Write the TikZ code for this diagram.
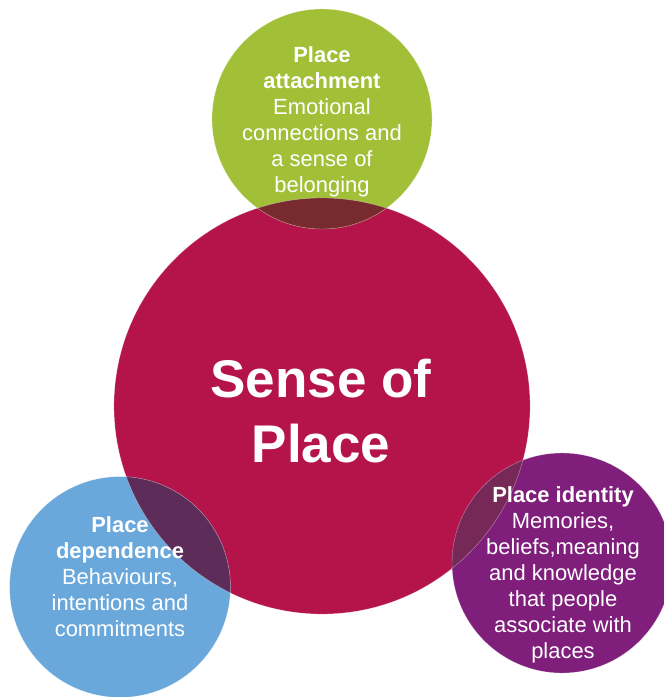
\documentclass[tikz,border=0pt]{standalone}
\usepackage{fontspec}
\setmainfont{Liberation Sans}
\usetikzlibrary{positioning}
\definecolor{sop-red}{HTML}{B5144B}
\definecolor{sop-green}{HTML}{A2BF38}
\definecolor{sop-blue}{HTML}{6AA8DC}
\definecolor{sop-purple}{HTML}{7F1F7B}
\definecolor{sop-green-dark}{HTML}{782B2F}
\definecolor{sop-blue-dark}{HTML}{5E2C58}
\definecolor{sop-purple-dark}{HTML}{762956}
\tikzset{sop-node/.style={circle, inner sep=0, outer sep=0}}
\tikzset{sop-edge/.style={draw=white, draw opacity=0.45, line width=0.3pt}}
\tikzset{sop-text/.style={text=white, align=center, font=\fontsize{15.6}{18.5}\selectfont}}

\begin{document}
\begin{tikzpicture}[x=0.025cm, y=-0.025cm]
            \useasboundingbox (0,0) rectangle (664,697);
            \node [sop-node, fill=sop-red, minimum size=10.4cm] (sense) at (322,406) {};
            \node [sop-node, fill=sop-green, minimum size=5.5cm] (attachment) at (322,119) {};
            \node [sop-node, fill=sop-blue, minimum size=5.52cm] (dependence) at (120,587) {};
            \node [sop-node, fill=sop-purple, minimum size=5.5cm] (identity) at (562,563) {};
            \begin{scope}
                \clip (sense.center) circle [radius=5.2cm];
                \fill [sop-green-dark] (attachment.center) circle [radius=2.75cm];
                \fill [sop-blue-dark] (dependence.center) circle [radius=2.76cm];
                \fill [sop-purple-dark] (identity.center) circle [radius=2.75cm];
            \end{scope}
            \foreach \name/\r in {sense/5.2, attachment/2.75, dependence/2.76, identity/2.75}
                \draw [sop-edge] (\name.center) circle [radius=\r cm];

            \node [sop-text, font=\fontsize{37.7}{46.2}\selectfont\bfseries] (sense-text) at (321,411) {Sense of\\Place};
            \node [sop-text] (attachment-text) at (322,122) {\textbf{Place}\\\textbf{attachment}\\Emotional\\connections and\\a sense of\\belonging};
            \node [sop-text] (dependence-text) at (120,577) {\textbf{Place}\\\textbf{dependence}\\Behaviours,\\intentions and\\commitments};
            \node [sop-text] (identity-text) at (563,575) {\textbf{Place identity}\\Memories,\\beliefs,meaning\\and knowledge\\that people\\associate with\\places};
        \end{tikzpicture}
\end{document}
